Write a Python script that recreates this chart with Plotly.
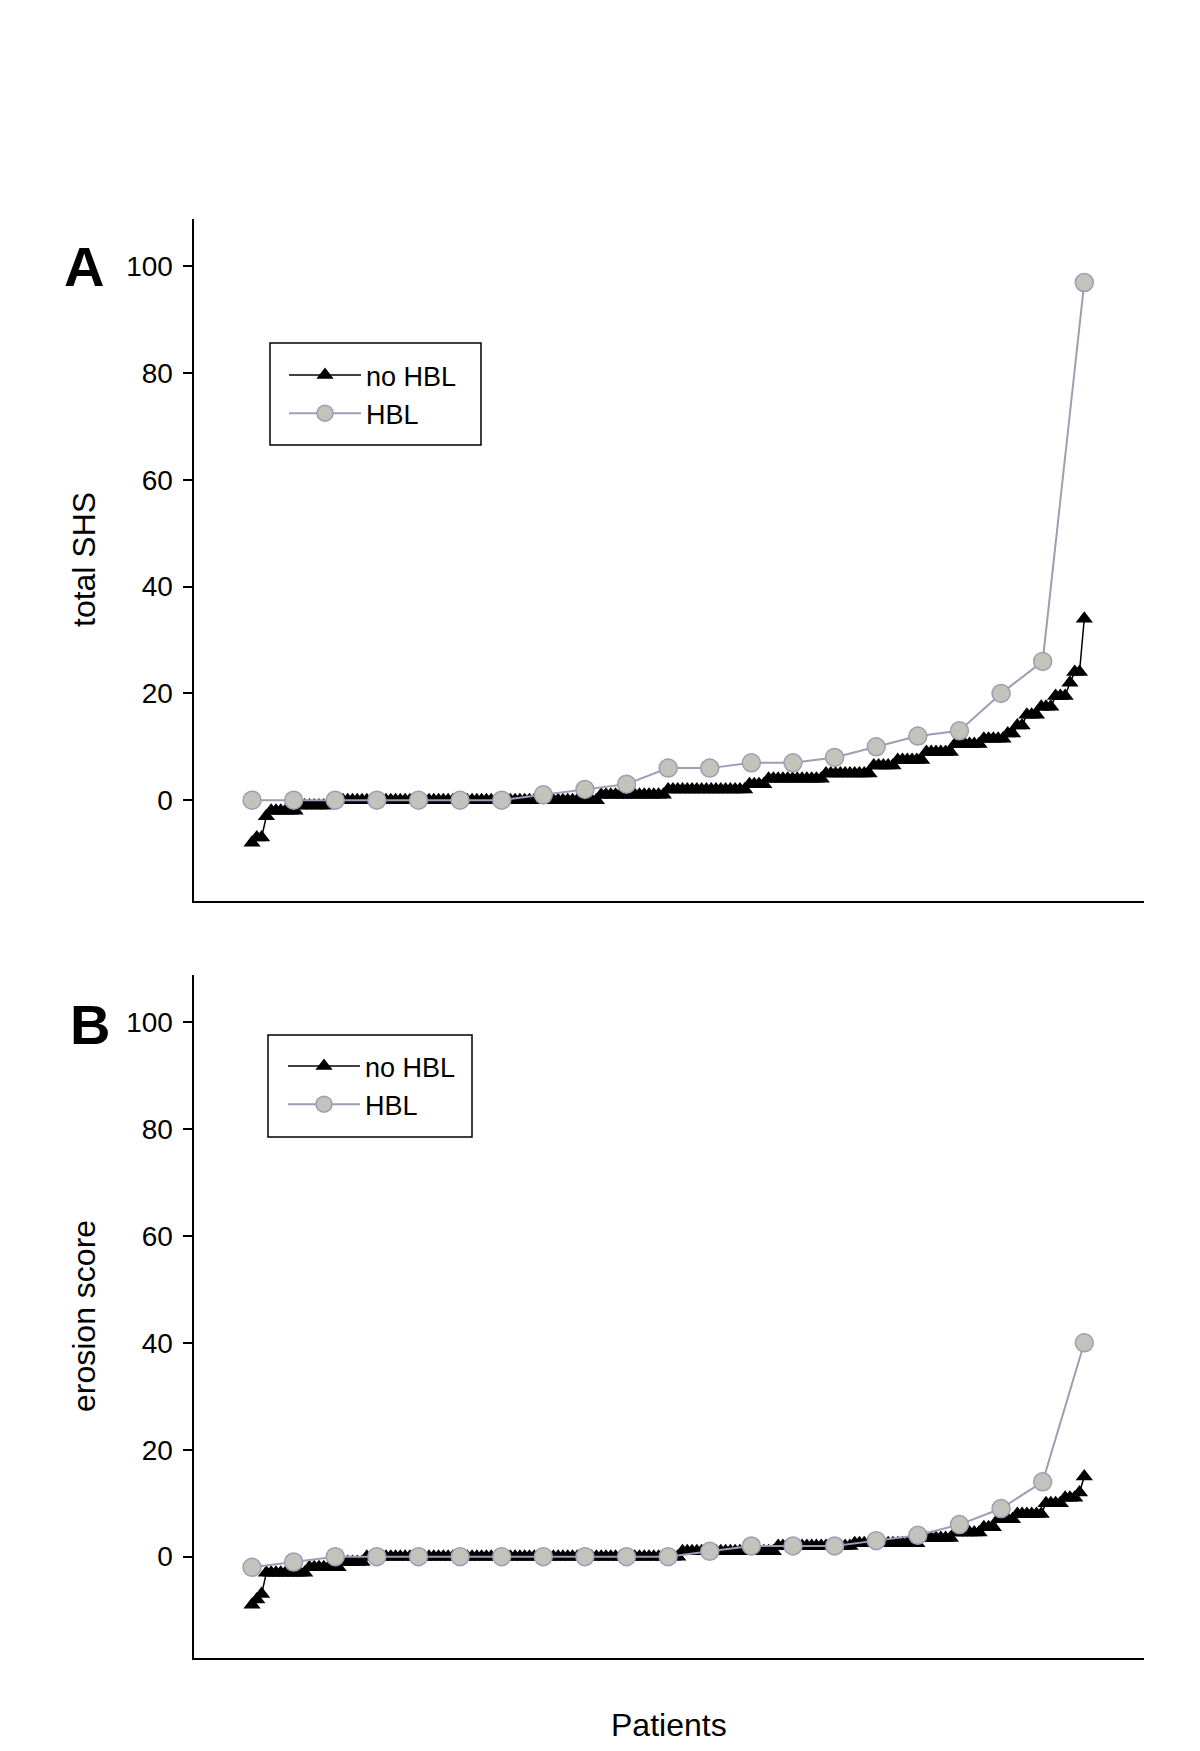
import plotly.graph_objects as go

# ---------------- data ----------------
# Panel A: total SHS, patients ranked within each group
no_hbl_shs = [
    -8, -7, -7, -3, -2, -2, -2, -2, -2, -2,
    -1, -1, -1, -1, -1, -1, -1,
    0, 0, 0, 0, 0, 0, 0, 0, 0, 0, 0, 0, 0, 0,
    0, 0, 0, 0, 0, 0, 0, 0, 0, 0, 0, 0, 0, 0,
    0, 0, 0, 0, 0, 0, 0, 0, 0, 0, 0, 0, 0, 0,
    0, 0, 0, 0, 0, 0, 0, 0, 0, 0, 0, 0, 0, 0,
    1, 1, 1, 1, 1, 1, 1, 1, 1, 1, 1, 1, 1, 1,
    2, 2, 2, 2, 2, 2, 2, 2, 2, 2, 2, 2, 2, 2, 2, 2, 2,
    3, 3, 3, 3,
    4, 4, 4, 4, 4, 4, 4, 4, 4, 4, 4, 4,
    5, 5, 5, 5, 5, 5, 5, 5, 5, 5,
    6.5, 6.5, 6.5, 6.5, 6.5,
    7.5, 7.5, 7.5, 7.5, 7.5, 7.5,
    9, 9, 9, 9, 9, 9,
    10.5, 10.5, 10.5, 10.5, 10.5, 10.5,
    11.5, 11.5, 11.5, 11.5, 11.5,
    12.5, 12.5, 14, 14, 16, 16, 16, 17.5, 17.5, 17.5,
    19.5, 19.5, 19.5, 22, 24, 24, 34,
]
hbl_shs = [0, 0, 0, 0, 0, 0, 0, 1, 2, 3, 6, 6, 7, 7, 8, 10, 12, 13, 20, 26, 97]

# Panel B: erosion score
no_hbl_ero = [
    -9, -8, -7,
    -3, -3, -3, -3, -3, -3, -3, -3, -3,
    -2, -2, -2, -2, -2, -2, -2,
    -1, -1, -1, -1, -1,
    0, 0, 0, 0, 0, 0, 0, 0, 0, 0, 0,
    0, 0, 0, 0, 0, 0, 0, 0, 0, 0, 0,
    0, 0, 0, 0, 0, 0, 0, 0, 0, 0, 0,
    0, 0, 0, 0, 0, 0, 0, 0, 0, 0, 0,
    0, 0, 0, 0, 0, 0, 0, 0, 0, 0, 0,
    0, 0, 0, 0, 0, 0, 0, 0, 0, 0, 0,
    1, 1, 1, 1, 1, 1, 1, 1, 1, 1,
    1, 1, 1, 1, 1, 1, 1, 1, 1, 1,
    2, 2, 2, 2, 2, 2, 2, 2, 2, 2, 2, 2, 2, 2, 2, 2,
    2.5, 2.5, 2.5, 2.5, 2.5, 2.5, 2.5, 2.5, 2.5, 2.5, 2.5, 2.5, 2.5, 2.5,
    3.5, 3.5, 3.5, 3.5, 3.5, 3.5, 3.5,
    4.5, 4.5, 4.5, 4.5, 4.5, 4.5,
    5.5, 5.5, 5.5,
    7, 7, 7, 7,
    8, 8, 8, 8, 8, 8,
    10, 10, 10, 10,
    11, 11, 11, 12, 15,
]
hbl_ero = [-2, -1, 0, 0, 0, 0, 0, 0, 0, 0, 0, 1, 2, 2, 2, 3, 4, 6, 9, 14, 40]

y_ticks = [0, 20, 40, 60, 80, 100]
series_names = ["no HBL", "HBL"]


def rank_pct(values):
    n = len(values)
    return [i * 100.0 / (n - 1) for i in range(n)]


FONT = "Liberation Sans, Arial, sans-serif"
BLACK_LINE = dict(color="black", width=1.5)
HBL_LINE = dict(color="#9d9db3", width=2)
TRI = dict(symbol="triangle-up", size=15, color="black")
CIRC = dict(symbol="circle", size=18, color="#c3c3bb",
            line=dict(color="#9d9db3", width=1.5))

fig = go.Figure()
panels = [
    (no_hbl_shs, hbl_shs, "x", "y", "legend"),
    (no_hbl_ero, hbl_ero, "x2", "y2", "legend2"),
]
for no_vals, hbl_vals, xa, ya, lg in panels:
    fig.add_trace(go.Scatter(
        x=rank_pct(no_vals), y=no_vals, mode="lines+markers",
        name=series_names[0], line=BLACK_LINE, marker=TRI,
        xaxis=xa, yaxis=ya, legend=lg))
    fig.add_trace(go.Scatter(
        x=rank_pct(hbl_vals), y=hbl_vals, mode="lines+markers",
        name=series_names[1], line=HBL_LINE, marker=CIRC,
        xaxis=xa, yaxis=ya, legend=lg))

W, H = 1200, 1751
OFF = 8  # page body margin offset


def px(v):
    return (v - OFF) / W


def py(v):
    return 1 - (v - OFF) / H


x_dom = [px(194.2), px(1144.2)]
a_dom = [py(901), py(219)]
b_dom = [py(1657.7), py(974.5)]
x_range = [-6.95, 107.2]
y_range = [-18.9, 108.9]

xcommon = dict(domain=x_dom, range=x_range, showline=True, linecolor="black",
               linewidth=1.5, showticklabels=False, ticks="", showgrid=False,
               zeroline=False)
ycommon = dict(range=y_range, tickvals=y_ticks, ticks="outside", ticklen=9,
               tickwidth=1.5, tickcolor="black", showline=True,
               linecolor="black", linewidth=1.5, showgrid=False,
               zeroline=False, tickfont=dict(size=28, color="black", family=FONT),
               ticklabelstandoff=5)

legend_common = dict(borderwidth=0, bgcolor="rgba(0,0,0,0)",
                     font=dict(size=27, color="black", family=FONT),
                     itemwidth=72, xanchor="left", yanchor="top",
                     tracegroupgap=0)

fig.update_layout(
    width=W, height=H,
    margin=dict(l=0, r=0, t=0, b=0),
    paper_bgcolor="white", plot_bgcolor="white",
    font=dict(family=FONT, color="black"),
    xaxis=dict(anchor="y", **xcommon),
    yaxis=dict(anchor="x", domain=a_dom, **ycommon),
    xaxis2=dict(anchor="y2", **xcommon),
    yaxis2=dict(anchor="x2", domain=b_dom, **ycommon),
    legend=dict(x=px(284), y=py(351), **legend_common),
    legend2=dict(x=px(283), y=py(1042), **legend_common),
    showlegend=True,
)

# legend frames
fig.add_shape(type="rect", xref="paper", yref="paper",
              x0=px(270), x1=px(481), y0=py(445), y1=py(343),
              line=dict(color="black", width=1.5), layer="below")
fig.add_shape(type="rect", xref="paper", yref="paper",
              x0=px(268), x1=px(472), y0=py(1137), y1=py(1035),
              line=dict(color="black", width=1.5), layer="below")

ann = [
    dict(text="<b>A</b>", x=px(84), y=py(266), font=dict(size=56)),
    dict(text="<b>B</b>", x=px(90), y=py(1024), font=dict(size=56)),
    dict(text="total SHS", x=px(84), y=py(560), textangle=-90,
         font=dict(size=32)),
    dict(text="erosion score", x=px(84), y=py(1316), textangle=-90,
         font=dict(size=32)),
    dict(text="Patients", x=px(669), y=py(1725), font=dict(size=32)),
]
for a in ann:
    a.update(xref="paper", yref="paper", showarrow=False,
             xanchor="center", yanchor="middle")
    a["font"].update(family=FONT, color="black")
fig.update_layout(annotations=ann)

fig.write_html("out.html")
